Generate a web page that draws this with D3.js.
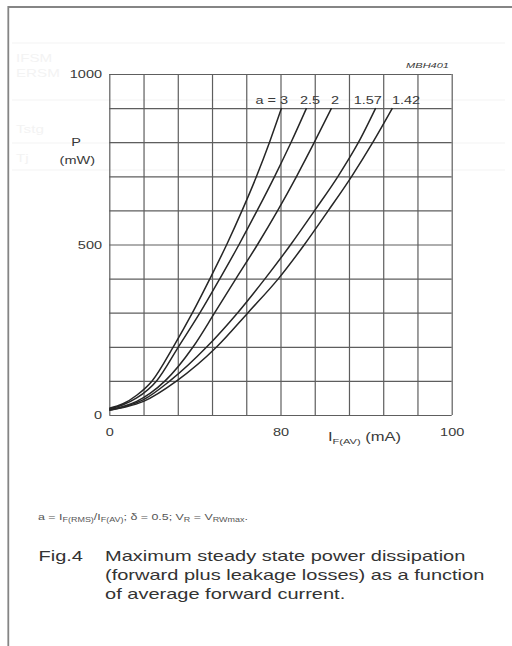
<!DOCTYPE html>
<html>
<head>
<meta charset="utf-8">
<script src="https://cdn.jsdelivr.net/npm/d3@7"></script>
<style>
  body { margin: 0; background: #fff; }
  svg { display: block; font-family: "Liberation Sans", Arial, sans-serif; }
  .grid line { stroke: #5e5e5e; stroke-width: 1.2; }
  .grid path { display: none; }
  .curve { fill: none; stroke: #262626; stroke-width: 1.5; }
  text { fill: #3a3a3a; }
</style>
</head>
<body>
<svg id="chart" width="512" height="646"></svg>
<script>
// ratio a = IF(RMS)/IF(AV) for each curve
const ratios = ["3", "2.5", "2", "1.57", "1.42"];

// curve points: IF(AV) in mA, P in mW
const currentA3   = [0, 4, 8, 12.5, 18.7, 24.3, 29.4, 34.3, 38.8, 43, 46.8, 50.3];
const powerA3     = [20, 33, 58, 100, 200, 300, 400, 500, 600, 700, 800, 900];
const currentA25  = [0, 4, 8, 13.8, 20.2, 26.5, 32.3, 37.9, 43.2, 48.3, 53.1, 57.6];
const powerA25    = [18, 30, 50, 100, 200, 300, 400, 500, 600, 700, 800, 900];
const currentA2   = [0, 4, 8, 12, 16.3, 24.5, 30.8, 37, 43.3, 49.2, 54.7, 59.9, 64.9];
const powerA2     = [16, 25, 40, 64, 100, 200, 300, 400, 500, 600, 700, 800, 900];
const currentA157 = [0, 5, 10, 17.7, 28.5, 37.5, 45.5, 53, 60, 66.8, 72.8, 77.8];
const powerA157   = [14, 26, 45, 100, 200, 300, 400, 500, 600, 700, 800, 900];
const currentA142 = [0, 5, 10, 19.7, 31.4, 40.5, 49.4, 57, 64, 70.8, 77, 82.7];
const powerA142   = [14, 24, 40, 100, 200, 300, 400, 500, 600, 700, 800, 900];

// axis ticks as printed
const xTickValues = [0, 50, 100];
const xTickLabels = ["0", "80", "100"];
const yTickValues = [0, 500, 1000];
const yTickLabels = ["0", "500", "1000"];

const series = [
    {a: ratios[0], I: currentA3,   P: powerA3},
    {a: ratios[1], I: currentA25,  P: powerA25},
    {a: ratios[2], I: currentA2,   P: powerA2},
    {a: ratios[3], I: currentA157, P: powerA157},
    {a: ratios[4], I: currentA142, P: powerA142}
];

const svg = d3.select("#chart");
const sx = 1.38; // the scan is stretched sideways, text too

const plotLeft = 109.3, plotRight = 451.7, plotTop = 74, plotBottom = 415;
const x = d3.scaleLinear().domain([0, 100]).range([plotLeft, plotRight]);
const y = d3.scaleLinear().domain([0, 1000]).range([plotBottom, plotTop]);

// helper: text placed at (px,py), widened like the scan
function addText(px, py, size, anchor, str, stretch) {
    return svg.append("g")
        .attr("transform", "translate(" + px + "," + py + ") scale(" + (stretch || sx) + ",1)")
        .append("text")
        .attr("font-size", size)
        .attr("text-anchor", anchor || "start")
        .text(str || "");
}

// page frame
svg.append("path")
    .attr("d", "M8.3,646 L8.3,7 L512,7")
    .attr("fill", "none")
    .attr("stroke", "#858585")
    .attr("stroke-width", 1.8);

// faint show-through from the back of the page
const ghost = svg.append("g").attr("stroke", "#f3f3f3").attr("stroke-width", 1);
[43, 100, 143, 170].forEach(function (gy) {
    ghost.append("line").attr("x1", 12).attr("x2", 505).attr("y1", gy).attr("y2", gy);
});
["IFSM", "ERSM", "Tstg", "Tj"].forEach(function (t, i) {
    addText(16, [62, 77, 133, 162][i], 11, "start", t).style("fill", "#f3f3f3");
});

// grid
svg.append("g")
    .attr("class", "grid")
    .attr("transform", "translate(0," + plotBottom + ")")
    .call(d3.axisBottom(x).tickValues(d3.range(0, 101, 10)).tickSize(-(plotBottom - plotTop)).tickFormat(""));
svg.append("g")
    .attr("class", "grid")
    .attr("transform", "translate(" + plotLeft + ",0)")
    .call(d3.axisLeft(y).tickValues(d3.range(0, 1001, 100)).tickSize(-(plotRight - plotLeft)).tickFormat(""));

// tick labels
let yAxis = svg.append("g")
    .attr("transform", "translate(" + plotLeft + ",0)")
    .call(d3.axisLeft(y).tickValues(yTickValues).tickSize(0).tickPadding(5.3)
        .tickFormat(function (d, i) { return yTickLabels[i]; }));
yAxis.select(".domain").remove();
yAxis.selectAll("text")
    .attr("font-size", 10.5)
    .attr("font-family", null)
    .attr("transform", "scale(" + sx + ",1)")
    .attr("x", -7.3 / sx)
    .attr("dy", "0.36em");

let xAxis = svg.append("g")
    .attr("transform", "translate(0," + plotBottom + ")")
    .call(d3.axisBottom(x).tickValues(xTickValues).tickSize(0).tickPadding(13.5)
        .tickFormat(function (d, i) { return xTickLabels[i]; }));
xAxis.select(".domain").remove();
xAxis.selectAll("text")
    .attr("font-size", 10.5)
    .attr("font-family", null)
    .attr("transform", "scale(" + sx + ",1)");

// curves
const line = d3.line()
    .x(function (d) { return x(d[0]); })
    .y(function (d) { return y(d[1]); })
    .curve(d3.curveMonotoneX);

svg.selectAll(".curve")
    .data(series)
    .enter()
    .append("path")
    .attr("class", "curve")
    .attr("d", function (s) {
        return line(s.I.map(function (v, i) { return [v, s.P[i]]; }));
    });

// curve labels sit over the curve ends
const labelNudge = [6.5, -6.5, -0.5, -22, -0.5];
series.forEach(function (s, i) {
    let endX = x(s.I[s.I.length - 1]) + labelNudge[i];
    addText(endX, 104, 10.5, i == 0 ? "end" : "start", i == 0 ? "a = " + s.a : s.a);
});

// axis titles
addText(76, 146, 10.5, "middle", "P");
addText(77.3, 164, 10.5, "middle", "(mW)");

let xt = addText(328, 441, 12, "start", "I");
xt.append("tspan").attr("font-size", 8).attr("dy", 3).text("F(AV)");
xt.append("tspan").attr("dy", -3).text(" (mA)");

addText(449, 68, 8, "end", "MBH401").attr("font-style", "italic");

// footnote
let fn = addText(38, 520, 9, "start", "a = I");
fn.append("tspan").attr("font-size", 6.5).attr("dy", 2).text("F(RMS)");
fn.append("tspan").attr("dy", -2).text("/I");
fn.append("tspan").attr("font-size", 6.5).attr("dy", 2).text("F(AV)");
fn.append("tspan").attr("dy", -2).text("; \u03b4 = 0.5; V");
fn.append("tspan").attr("font-size", 6.5).attr("dy", 2).text("R");
fn.append("tspan").attr("dy", -2).text(" = V");
fn.append("tspan").attr("font-size", 6.5).attr("dy", 2).text("RWmax");
fn.append("tspan").attr("dy", -2).text(".");
fn.style("fill", "#555");

// caption
const captionLines = [
    "Maximum steady state power dissipation",
    "(forward plus leakage losses) as a function",
    "of average forward current."
];
addText(38.5, 561, 14, "start", "Fig.4", 1.43).style("fill", "#333");
captionLines.forEach(function (t, i) {
    addText(105, 561 + i * 19, 14, "start", t, 1.43).style("fill", "#333");
});
</script>
</body>
</html>
